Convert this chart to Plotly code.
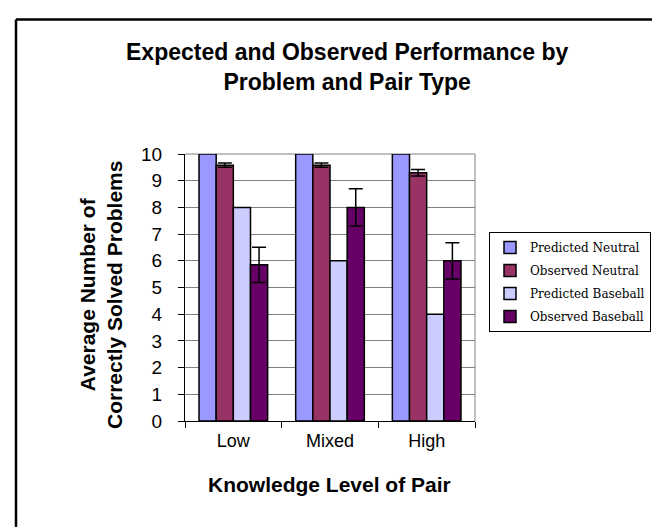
import plotly.graph_objects as go

categories = ["Low", "Mixed", "High"]
series_names = ["Predicted Neutral", "Observed Neutral", "Predicted Baseball", "Observed Baseball"]
predicted_neutral = [10, 10, 10]
observed_neutral = [9.58, 9.58, 9.3]
observed_neutral_err = [0.08, 0.08, 0.12]
predicted_baseball = [8, 6, 4]
observed_baseball = [5.85, 8.0, 6.0]
observed_baseball_err = [0.66, 0.7, 0.68]
y_ticks = [0, 1, 2, 3, 4, 5, 6, 7, 8, 9, 10]

colors = ["#9999FF", "#993366", "#CCCCFF", "#660066"]
values = [predicted_neutral, observed_neutral, predicted_baseball, observed_baseball]
errors = [None, observed_neutral_err, None, observed_baseball_err]

W, H = 660, 527
L, R, T, B = 177, 193, 146, 114
PW, PH = W - L - R, H - T - B


def px(x):
    return (x - L) / PW


def py(y):
    return (H - B - y) / PH


fig = go.Figure()
for i, (name, vals, err, col) in enumerate(zip(series_names, values, errors, colors)):
    kw = {}
    if err is not None:
        kw["error_y"] = dict(type="data", array=err, visible=True, color="black",
                             thickness=1.5, width=7)
    fig.add_trace(go.Bar(
        x=categories, y=vals, name=name, marker=dict(color=col, line=dict(color="black", width=1.5)),
        legendgroup=f"g{i}", **kw))

fig.update_layout(
    width=W, height=H,
    margin=dict(l=L, r=R, t=T, b=B, autoexpand=False),
    paper_bgcolor="white", plot_bgcolor="white",
    barmode="group", bargap=0.29, bargroupgap=0,
    font=dict(family="Liberation Sans, Arial", color="black"),
    showlegend=True,
    legend=dict(x=px(481), y=py(224), xanchor="left", yanchor="top",
                bordercolor="black", borderwidth=1, bgcolor="white",
                font=dict(family="DejaVu Serif", size=12, color="black"),
                tracegroupgap=4, itemwidth=30),
)
fig.update_xaxes(
    type="category", showline=True, linecolor="black", linewidth=1,
    ticks="outside", tickson="boundaries", ticklen=6, tickcolor="black",
    tickfont=dict(size=18), showgrid=False, ticklabelstandoff=3,
)
fig.update_yaxes(
    range=[0, 10], tickvals=y_ticks, showline=True, linecolor="black", linewidth=1,
    ticks="outside", ticklen=6, tickcolor="black", tickfont=dict(size=19),
    showgrid=True, gridcolor="#808080", gridwidth=1, zeroline=False,
    ticklabelstandoff=12,
)
# gray plot-area border (top and right)
fig.add_shape(type="line", xref="paper", yref="paper", x0=0, x1=1, y0=1, y1=1,
              line=dict(color="#808080", width=1), layer="below")
fig.add_shape(type="line", xref="paper", yref="paper", x0=1, x1=1, y0=0, y1=1,
              line=dict(color="#808080", width=1), layer="below")
# outer chart border (left and top visible)
fig.add_shape(type="line", xref="paper", yref="paper", x0=px(8), x1=px(670), y0=py(11.5), y1=py(11.5),
              line=dict(color="black", width=2.5))
fig.add_shape(type="line", xref="paper", yref="paper", x0=px(8), x1=px(8), y0=py(11.5), y1=py(540),
              line=dict(color="black", width=2.5))

fig.add_annotation(text="<b>Expected and Observed Performance by<br>Problem and Pair Type</b>",
                   xref="paper", yref="paper", x=px(339), y=py(59), xanchor="center", yanchor="middle",
                   showarrow=False, font=dict(size=23), align="center")
fig.add_annotation(text="<b>Average Number of<br>Correctly Solved Problems</b>",
                   xref="paper", yref="paper", x=px(93), y=py(287), xanchor="center", yanchor="middle",
                   showarrow=False, font=dict(size=21), textangle=-90, align="center")
fig.add_annotation(text="<b>Knowledge Level of Pair</b>",
                   xref="paper", yref="paper", x=px(321), y=py(476), xanchor="center", yanchor="middle",
                   showarrow=False, font=dict(size=21))

fig.write_html("out.html")
